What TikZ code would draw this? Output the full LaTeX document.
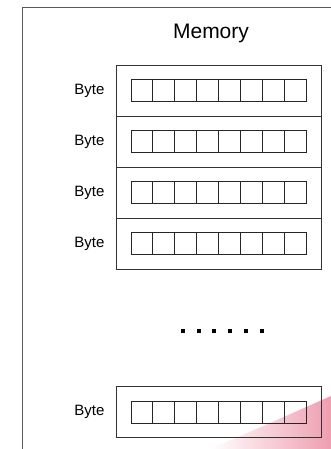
\documentclass[tikz,border=0pt]{standalone}
\usepackage{fontspec}
\setmainfont{Liberation Sans}
\usetikzlibrary{positioning}
\definecolor{swoosh}{RGB}{238,158,176}

\begin{document}
\begin{tikzpicture}[x=1pt,y=-1pt,
    frame/.style={draw=black!65, line width=0.9pt},
    bytebox/.style={draw=black!80, line width=0.9pt, minimum width=205pt, minimum height=51pt, inner sep=0pt},
    bitcell/.style={draw=black!85, line width=0.8pt, minimum width=21.875pt, minimum height=22pt, inner sep=0pt},
    bytelabel/.style={font=\fontsize{15}{18}\selectfont, inner sep=0pt}]
    \useasboundingbox (0,0) rectangle (331,449);

    % Розовая полоса в углу
    \shade[left color=white, right color=swoosh]
        (210,449) .. controls (255,430) and (295,412) .. (331,396) -- (331,449) -- cycle;

    % Рамка памяти
    \draw[frame] (22,449) -- (22,7) -- (331,7);
    \node[font=\fontsize{21}{25}\selectfont] (title) at (211,33) {Memory};

    % Байты
    \foreach \i/\cy in {1/90.5, 2/141.5, 3/192.5, 4/243.5, 5/412} {
        \node[bytebox] (row\i) at (218.5,\cy) {};
        \node[bytelabel, left=11pt of row\i] (label\i) {Byte};
        \foreach \k in {1,...,8}
            \node[bitcell] (bit\i\k) at ({131+21.875*(\k-0.5)},\cy) {};
    }

    % Многоточие
    \foreach \k in {0,...,5}
        \fill ({182.7+15.8*\k-2},329) rectangle ++(4,4);
\end{tikzpicture}
\end{document}
